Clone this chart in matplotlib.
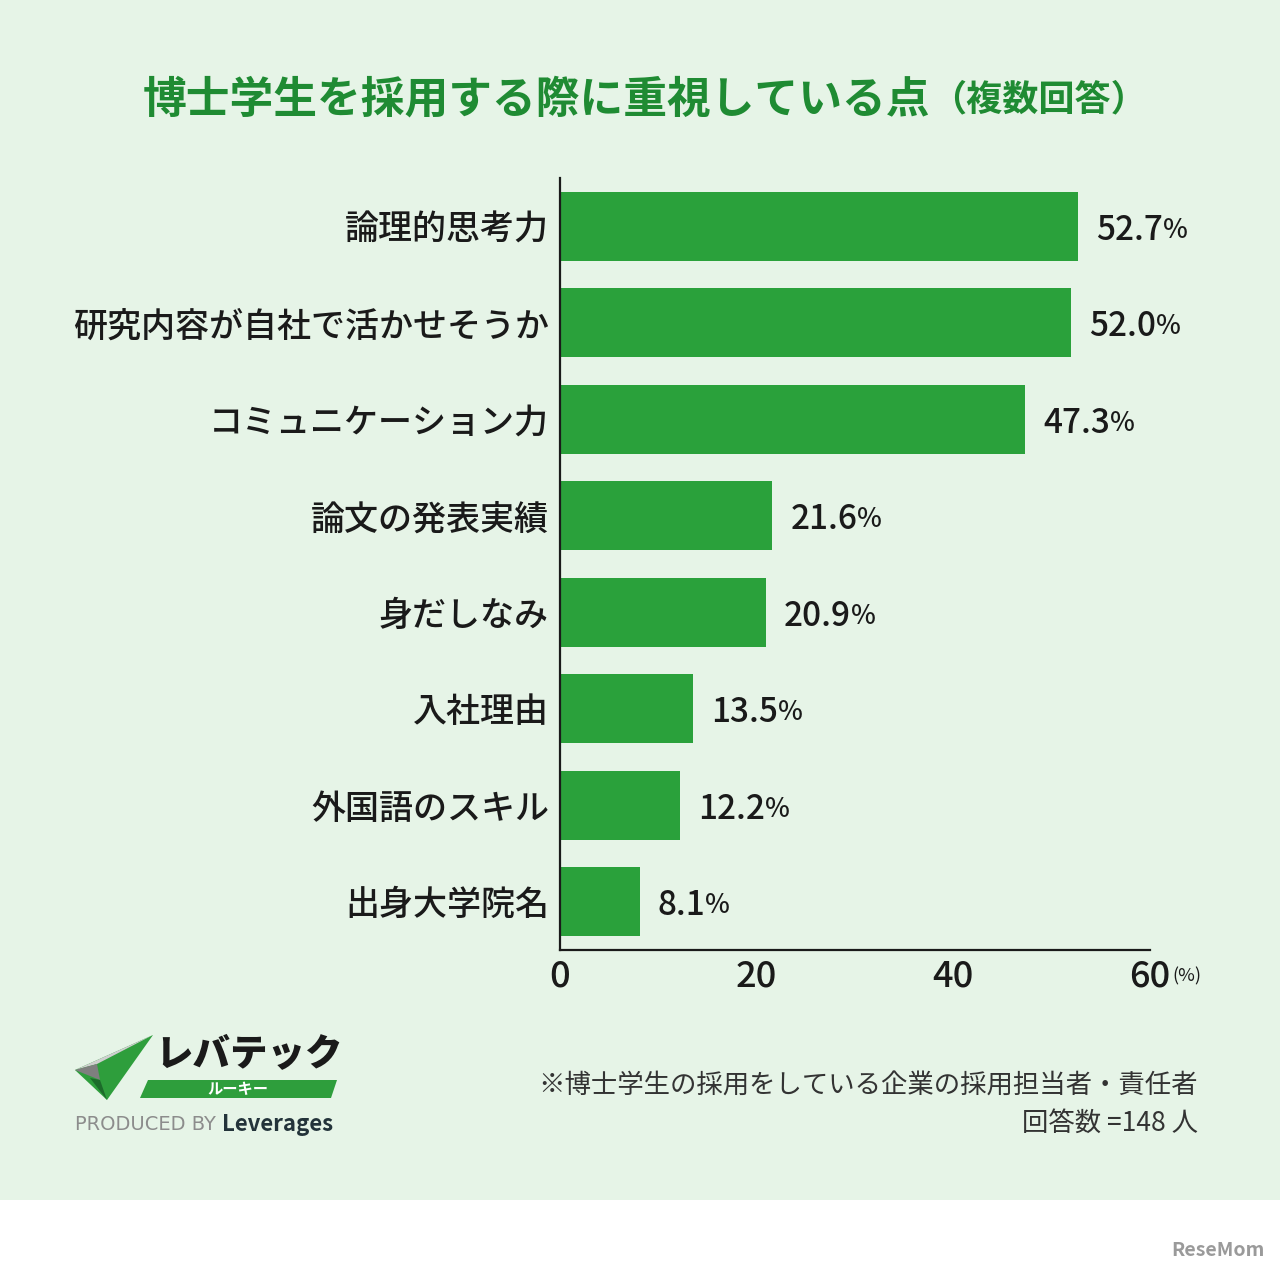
import matplotlib
matplotlib.use('Agg')
import matplotlib.pyplot as plt
from matplotlib.patches import Polygon, Rectangle

plt.rcParams['font.family'] = ['Noto Sans CJK JP', 'DejaVu Sans']

# ========== データ ==========
categories = ['論理的思考力', '研究内容が自社で活かせそうか', 'コミュニケーション力',
              '論文の発表実績', '身だしなみ', '入社理由', '外国語のスキル', '出身大学院名']
values = [52.7, 52.0, 47.3, 21.6, 20.9, 13.5, 12.2, 8.1]
xticks = [0, 20, 40, 60]

title_main = '博士学生を採用する際に重視している点'
title_sub = '（複数回答）'
note_1 = '※博士学生の採用をしている企業の採用担当者・責任者'
note_2 = '回答数 =148 人'

bg_green = '#e6f4e7'
bar_green = '#2aa13b'
title_green = '#1f8b33'
txt = '#1a1a1a'
W, H = 1280, 1271

fig = plt.figure(figsize=(W / 100, H / 100), dpi=100)
fig.patch.set_facecolor('white')

# 背景・ロゴ用のオーバーレイ（ピクセル座標）
ov = fig.add_axes([0, 0, 1, 1], zorder=-1)
ov.set_xlim(0, W)
ov.set_ylim(H, 0)
ov.axis('off')
ov.add_patch(Rectangle((0, 0), W, 1200, color=bg_green, lw=0))

# ========== 棒グラフ ==========
ax = fig.add_axes([560 / W, 1 - 950 / H, 590 / W, (950 - 178) / H])
ax.set_facecolor('none')
ypos = list(range(len(categories)))
ax.barh(ypos, values, height=0.71, color=bar_green)
ax.set_xlim(0, 60)
ax.set_ylim(len(categories) - 0.5, -0.5)
ax.set_yticks(ypos)
ax.set_yticklabels(categories, fontsize=24.5, fontweight='medium', color=txt)
ax.set_xticks(xticks)
ax.set_xticklabels([str(t) for t in xticks], fontsize=26, fontweight='medium', color=txt)
ax.tick_params(axis='y', length=0, pad=8)
ax.tick_params(axis='x', length=0, pad=6)
for s in ['top', 'right']:
    ax.spines[s].set_visible(False)
for s in ['left', 'bottom']:
    ax.spines[s].set_linewidth(1.6)
    ax.spines[s].set_color(txt)

for y, v in zip(ypos, values):
    t = ax.annotate(f'{v:.1f}', xy=(v, y), xytext=(13, 0), textcoords='offset points',
                    ha='left', va='center_baseline', fontsize=24, fontweight='medium', color=txt)
    ax.annotate('%', xy=(1, 0.12), xycoords=t, ha='left', va='bottom',
                fontsize=19, fontweight='medium', color=txt)

# 60(%) の単位
ax.annotate('(%)', xy=(60, 0), xycoords=('data', 'axes fraction'),
            xytext=(16, -19), textcoords='offset points',
            ha='left', va='center', fontsize=13, color=txt)

# ========== タイトル ==========
tt = ov.text(143, 100, title_main, ha='left', va='center', fontsize=31.5,
             fontweight='bold', color=title_green)
ov.annotate(title_sub, xy=(1, 0.5), xycoords=tt, ha='left', va='center',
            fontsize=26, fontweight='bold', color=title_green)

# ========== 注記 ==========
ov.text(1198, 1086, note_1, ha='right', va='center', fontsize=19, color='#333333')
ov.text(1198, 1123, note_2, ha='right', va='center', fontsize=19, color='#333333')

# ========== ロゴ ==========
ov.add_patch(Polygon([(75, 1070), (153, 1035), (107, 1100)], closed=True,
                     color='#2e9e3c', lw=0))
ov.add_patch(Polygon([(75, 1070), (153, 1035), (97, 1064)], closed=True,
                     color='#cfcfcf', lw=0))
ov.add_patch(Polygon([(75, 1070), (97, 1064), (100, 1080)], closed=True,
                     color='#7f7f7f', lw=0))
ov.add_patch(Polygon([(90, 1078), (100, 1080), (107, 1100)], closed=True,
                     color='#1c6b2a', lw=0))
ov.text(155, 1055, 'レバテック', ha='left', va='center', fontsize=27,
        fontweight='black', style='italic', color=txt)
ov.add_patch(Polygon([(148, 1080), (337, 1080), (331, 1098), (140, 1098)],
                     closed=True, color='#2e9e3c', lw=0))
ov.text(238, 1089, 'ルーキー', ha='center', va='center', fontsize=11,
        fontweight='bold', color='white')
pt = ov.text(75, 1125, 'PRODUCED BY ', ha='left', va='center', fontsize=14,
             color='#8c8c8c', family=['DejaVu Sans'])
ov.annotate('Leverages', xy=(1, 0.5), xycoords=pt, ha='left', va='center',
            fontsize=16, fontweight='bold', color='#23333a')

# 透かし
ov.text(1265, 1250, 'ReseMom', ha='right', va='center', fontsize=14,
        fontweight='bold', color='#9a9a9a')

fig.savefig('out.png', dpi=100)
